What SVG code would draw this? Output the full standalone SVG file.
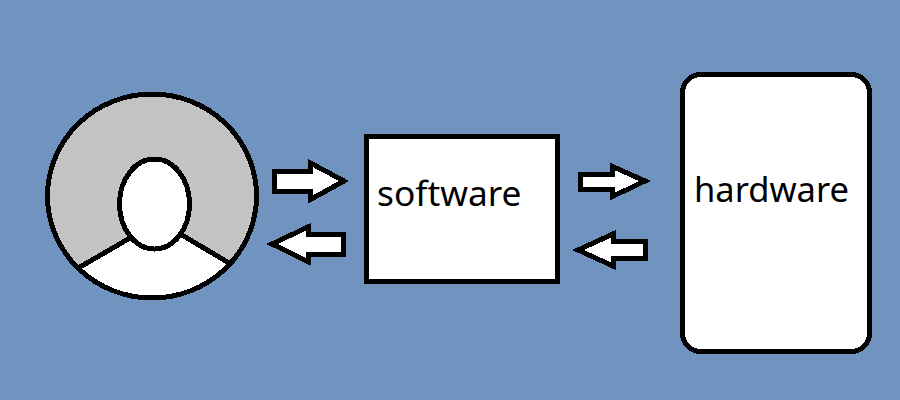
<svg xmlns="http://www.w3.org/2000/svg" width="900" height="400" viewBox="0 0 900 400">
<defs><clipPath id="disc"><ellipse cx="152" cy="196" rx="104.5" ry="102"/></clipPath></defs>
<style>
.s{stroke:#000;stroke-width:5;fill:#fff;shape-rendering:crispEdges}
.a{stroke:#000;stroke-width:5;fill:#fff;stroke-linejoin:miter;stroke-miterlimit:4;shape-rendering:crispEdges}
.t{font-family:"Noto Sans","Open Sans",sans-serif;fill:#000}
</style>
<rect width="900" height="400" fill="#7093bf"/>
<g id="user">
<ellipse cx="152" cy="196" rx="104.5" ry="102" style="fill:#c3c3c3;shape-rendering:crispEdges"/>
<path d="M60 281 L80 267 L130 238 L182 235 L229 263 L250 276 V320 H60 Z" class="s" clip-path="url(#disc)"/>
<ellipse cx="152" cy="196" rx="104.5" ry="102" class="s" style="fill:none"/>
<ellipse cx="154.500" cy="204" rx="35" ry="45" class="s"/>
</g>
<g id="software">
<rect x="366.500" y="136.500" width="191" height="145" class="s"/>
<text x="377" y="206" class="t" font-size="35.300">software</text>
</g>
<g id="hardware">
<rect x="682.500" y="74.500" width="187" height="277" rx="18" class="s"/>
<text x="694" y="202" class="t" font-size="34.500">hardware</text>
</g>
<g id="connectors">
<path d="M274.500 171.500 H310.500 V163 L344 181 L310.500 199.500 V191 H274.500 Z" class="a"/>
<path d="M343.500 234.500 H308 V227 L272 244 L308 261.500 V254 H343.500 Z" class="a"/>
<path d="M580.500 174 H612.500 V166.500 L645 181 L612.500 196.500 V189 H580.500 Z" class="a"/>
<path d="M645.500 241.500 H613 V234 L578 250 L613 266 V258 H645.500 Z" class="a"/>
</g>
</svg>
